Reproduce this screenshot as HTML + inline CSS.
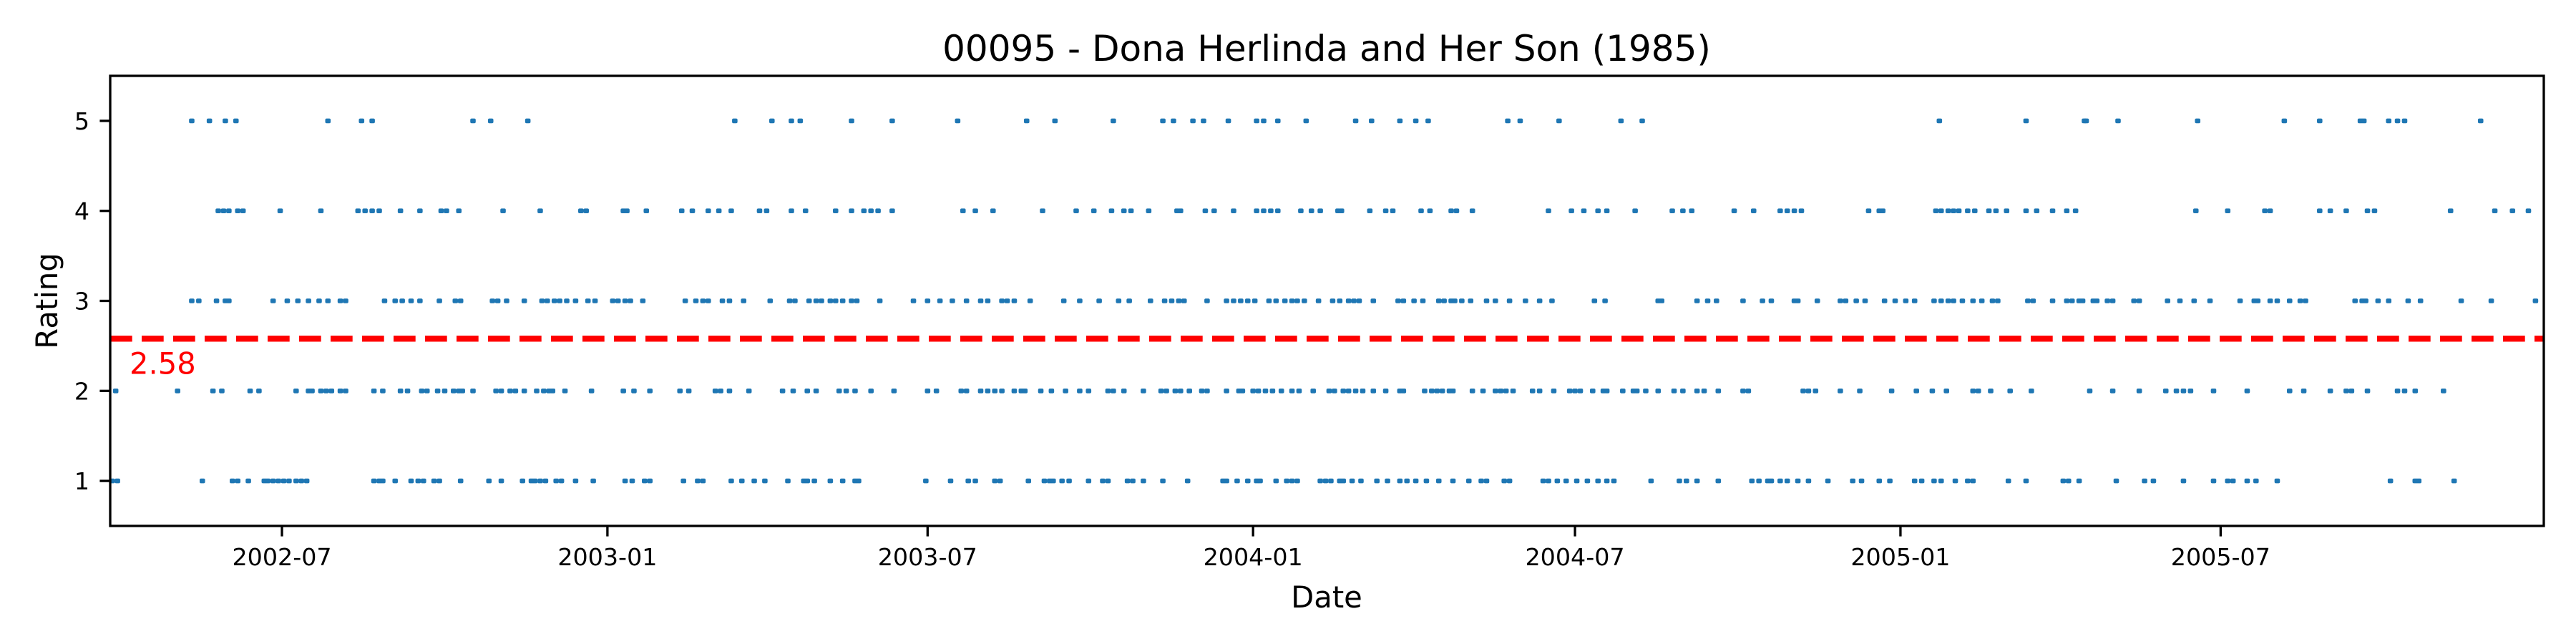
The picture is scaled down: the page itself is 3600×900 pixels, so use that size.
<!DOCTYPE html>
<html><head><meta charset="utf-8"><style>
html,body{margin:0;padding:0;background:#fff;}
svg{display:block;}
text{font-family:"DejaVu Sans","Liberation Sans",sans-serif;}
</style></head><body>
<svg id="chart" width="3600" height="900" viewBox="0 0 3600 900" xmlns="http://www.w3.org/2000/svg">
<rect x="0" y="0" width="3600" height="900" fill="#fff"/>
<text x="1854" y="85" font-size="50" text-anchor="middle">00095 - Dona Herlinda and Her Son (1985)</text>
<text x="1854" y="849" font-size="41.7" text-anchor="middle">Date</text>
<text transform="translate(80,420.5) rotate(-90)" font-size="41.7" text-anchor="middle">Rating</text>
<g id="marks"></g>
</svg>
<script>
// day offsets since 2002-01-01 for each rating
const days5 = [130,140,149,155,207,226,232,289,299,320,437,458,469,474,503,526,563,602,618,651,679,685,696,702,716,732,736,744,760,788,797,813,822,829,874,881,903,938,950,1118,1167,1200,1201,1219,1264,1313,1333,1356,1358,1372,1377,1381,1424];
const days4 = [145,148,151,156,159,180,203,224,228,232,236,248,259,271,274,281,306,327,350,353,374,376,387,407,413,422,428,435,451,455,469,477,494,503,510,514,518,526,566,573,583,611,630,640,650,657,661,671,687,689,703,708,719,732,736,740,744,757,763,768,778,780,796,805,809,825,830,842,845,854,897,910,917,925,930,946,967,973,978,1002,1013,1028,1032,1036,1040,1078,1084,1086,1116,1119,1123,1126,1129,1134,1138,1146,1150,1156,1167,1173,1182,1190,1195,1263,1281,1302,1305,1333,1339,1348,1360,1364,1407,1432,1442,1451];
const days3 = [130,134,144,149,151,176,184,190,196,202,207,214,217,239,245,249,254,259,270,279,282,300,303,308,318,328,331,335,338,342,347,354,358,368,371,375,378,385,409,415,419,422,430,434,442,457,468,471,479,483,486,491,494,498,503,506,519,538,546,553,560,568,576,580,588,591,595,604,623,632,643,654,660,672,680,684,688,691,704,715,719,723,727,731,739,743,748,752,755,759,767,775,779,784,787,790,798,812,815,821,826,835,838,842,844,848,853,862,867,875,884,892,899,923,929,959,961,981,987,992,1007,1018,1023,1036,1038,1049,1062,1065,1071,1076,1087,1093,1099,1104,1115,1119,1123,1126,1131,1137,1142,1148,1151,1168,1171,1182,1190,1193,1197,1199,1205,1207,1213,1216,1228,1231,1247,1254,1262,1271,1288,1296,1298,1305,1309,1316,1322,1325,1353,1357,1359,1366,1372,1383,1390,1413,1430,1455];
const days2 = [87,122,142,147,163,168,189,196,198,203,206,209,214,217,233,238,248,252,260,263,269,273,278,281,283,289,302,305,310,313,318,325,329,332,334,341,356,374,380,389,406,411,426,429,434,445,464,470,478,483,496,500,505,514,527,546,551,565,568,576,580,584,588,595,599,601,610,616,624,632,637,648,651,657,668,678,681,686,689,694,701,704,715,722,724,730,733,737,741,746,752,756,764,773,776,781,784,788,792,798,805,813,815,827,831,834,837,841,843,854,860,867,870,873,877,888,892,900,909,912,915,922,928,930,939,945,947,952,959,968,973,981,985,993,1007,1010,1041,1044,1048,1062,1073,1091,1105,1114,1122,1137,1140,1147,1158,1170,1203,1216,1231,1246,1252,1256,1260,1273,1292,1316,1324,1339,1348,1351,1360,1377,1381,1387,1403];
const days1 = [85,88,136,153,156,162,171,173,176,179,182,185,189,192,195,233,236,238,245,254,258,261,267,270,282,298,305,317,322,324,327,330,336,339,347,357,375,379,386,389,408,416,419,435,441,448,454,467,476,478,482,491,498,505,507,545,559,569,573,584,587,603,612,615,617,622,626,637,645,648,659,662,668,679,693,713,715,721,727,732,734,743,749,752,755,768,771,774,779,781,786,791,800,806,813,817,822,828,835,843,852,859,862,872,875,894,897,902,907,913,919,925,930,934,955,971,975,981,993,1012,1016,1021,1023,1028,1032,1038,1044,1055,1069,1074,1084,1090,1104,1108,1115,1119,1127,1134,1137,1157,1167,1188,1191,1197,1218,1234,1239,1256,1273,1281,1284,1292,1297,1309,1373,1387,1389,1409];
const ratingSeries = [[1,days1],[2,days2],[3,days3],[4,days4],[5,days5]];
const xTickDays = [181,365,546,730,912,1096,1277];
const xTickLabels = ["2002-07","2003-01","2003-07","2004-01","2004-07","2005-01","2005-07"];
const yTicks = [1,2,3,4,5];
const meanRating = 2.58;
const xDomain = [83.9,1459.7];
const yDomain = [0.5,5.5];

const L=154,R=3555,T=106,B=735;
const NS="http://www.w3.org/2000/svg";
function xs(d){return L+(d-xDomain[0])/(xDomain[1]-xDomain[0])*(R-L);}
function ys(v){return B-(v-yDomain[0])/(yDomain[1]-yDomain[0])*(B-T);}
const g=document.getElementById('marks');
function mk(tag,attrs){const e=document.createElementNS(NS,tag);for(const k in attrs)e.setAttribute(k,attrs[k]);g.appendChild(e);return e;}

ratingSeries.forEach(([r,arr])=>{
  arr.forEach(d=>{
    const p=mk('rect',{x:xs(d)-3.8,y:ys(r)-3.3,width:7.6,height:6.6,rx:2,fill:'#1f77b4'});
    
    
  });
});

const ml=mk('line',{x1:L,x2:R,y1:ys(meanRating),y2:ys(meanRating),stroke:'#ff0000','stroke-width':8.3,'stroke-dasharray':'30.7 13.3'});


const mt=mk('text',{x:181,y:ys(meanRating)+49,'font-size':41.7,fill:'#ff0000'});
mt.textContent=meanRating.toFixed(2);



const frame=mk('rect',{x:L,y:T,width:R-L,height:B-T,fill:'none',stroke:'#000','stroke-width':3.3});



xTickDays.forEach((d,i)=>{
  const x=xs(d);
  const t=mk('line',{x1:x,x2:x,y1:B,y2:B+14.6,stroke:'#000','stroke-width':3.3});
  
  
  const lb=mk('text',{x:x,y:790,'font-size':33.3,'text-anchor':'middle'});
  lb.textContent=xTickLabels[i];
  
  
});
yTicks.forEach(v=>{
  const y=ys(v);
  const t=mk('line',{x1:L-14.6,x2:L,y1:y,y2:y,stroke:'#000','stroke-width':3.3});
  
  
  const lb=mk('text',{x:125,y:y+12,'font-size':33.3,'text-anchor':'end'});
  lb.textContent=String(v);
  
  
});
</script>
</body></html>
